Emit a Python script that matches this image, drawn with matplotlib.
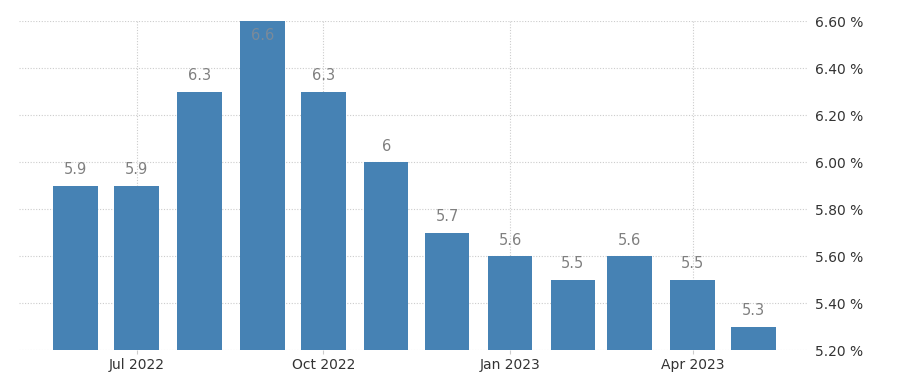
import matplotlib
matplotlib.use("Agg")
import matplotlib.pyplot as plt
import matplotlib.dates as mdates
import numpy as np
import datetime as dt

months = ["2022-06", "2022-07", "2022-08", "2022-09", "2022-10", "2022-11",
          "2022-12", "2023-01", "2023-02", "2023-03", "2023-04", "2023-05"]
values = [5.9, 5.9, 6.3, 6.6, 6.3, 6.0, 5.7, 5.6, 5.5, 5.6, 5.5, 5.3]
labels = ["5.9", "5.9", "6.3", "6.6", "6.3", "6", "5.7", "5.6", "5.5", "5.6", "5.5", "5.3"]
yticks = [5.2, 5.4, 5.6, 5.8, 6.0, 6.2, 6.4, 6.6]
xticks = ["2022-07", "2022-10", "2023-01", "2023-04"]

dates = [dt.datetime.strptime(m, "%Y-%m") for m in months]
tick_dates = [dt.datetime.strptime(m, "%Y-%m") for m in xticks]

fig = plt.figure(figsize=(9.02, 3.76), dpi=100)
ax = fig.add_axes([0.021, 0.069, 0.875, 0.875])

ymin, ymax = 5.2, 6.6
ax.bar(dates, [v - ymin for v in values], bottom=ymin, width=22,
       color="#4682b4", zorder=2)

# valeurs au-dessus des barres (la plus haute est coupée, donc dedans)
for d, v, t in zip(dates, values, labels):
    if v >= ymax:
        ax.annotate(t, (d, ymax), xytext=(0, -5), textcoords="offset points",
                    ha="center", va="top", fontsize=10.5, color="#7a8a9a", zorder=3)
    else:
        ax.annotate(t, (d, v), xytext=(0, 6), textcoords="offset points",
                    ha="center", va="bottom", fontsize=10.5, color="#808080", zorder=3)

ax.set_ylim(ymin, ymax)
ax.set_xlim(dt.datetime(2022, 5, 4), dt.datetime(2023, 5, 28))

ax.yaxis.tick_right()
ax.set_yticks(yticks)
ax.set_yticklabels(["%.2f %%" % y for y in yticks])
ax.set_xticks(tick_dates)
ax.xaxis.set_major_formatter(mdates.DateFormatter("%b %Y"))

ax.tick_params(axis="y", length=0, pad=5, labelsize=10, labelcolor="#333333")
ax.tick_params(axis="x", length=3, color="#cccccc", pad=3, labelsize=10, labelcolor="#333333")

ax.grid(True, linestyle=(0, (1, 1.5)), color="#cccccc", linewidth=0.8, zorder=0)
ax.set_axisbelow(True)
for s in ax.spines.values():
    s.set_visible(False)

fig.savefig("out.png", dpi=100)
